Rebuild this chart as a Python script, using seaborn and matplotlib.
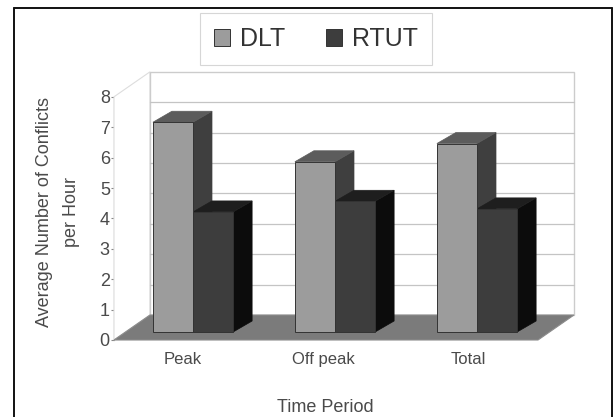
import matplotlib
matplotlib.use("Agg")
import pandas as pd
import seaborn as sns
from matplotlib import pyplot as plt
from matplotlib.lines import Line2D
from matplotlib.patches import Polygon
from matplotlib.transforms import ScaledTranslation

periods = ["Peak", "Off peak", "Total"]
dlt_values = [6.9, 5.6, 6.2]
rtut_values = [3.95, 4.3, 4.05]
y_ticks = [0, 1, 2, 3, 4, 5, 6, 7, 8]

W, H = 614, 417
PX_X = 142.0   # pixels per category
PX_Y = 30.4    # pixels per unit
X0 = 193       # pixel of first category centre
Y0 = 332       # pixel of bar base
AX_BOTTOM = 341

def px(x):
    return (x - X0) / PX_X

def py(y):
    return (Y0 - y) / PX_Y

df = pd.DataFrame({
    "period": periods * 2,
    "conflicts": dlt_values + rtut_values,
    "method": ["DLT"] * 3 + ["RTUT"] * 3,
})

sns.set_theme(style="white")
plt.rcParams["font.family"] = ["Liberation Sans", "DejaVu Sans"]
text_col = "#4a4a4a"

fig = plt.figure(figsize=(W / 100, H / 100), dpi=100, facecolor="white")
ax = fig.add_axes([0, 1 - AX_BOTTOM / H, 1, AX_BOTTOM / H])
ax.patch.set_alpha(0)

sns.barplot(data=df, x="period", y="conflicts", hue="method", order=periods,
            hue_order=["DLT", "RTUT"], palette={"DLT": "#9c9c9c", "RTUT": "#3d3d3d"},
            width=0.565, gap=0, saturation=1, edgecolor="#333333", linewidth=0.7, ax=ax)

ax.set_xlim(px(0), px(W))
ax.set_ylim(py(AX_BOTTOM), py(0))

# walls and floor of the 3d box
lift = py(340)
top = lift + y_ticks[-1]
dx, dy = 36 / PX_X, 25 / PX_Y
xl, xr = px(114), px(538)
wall = "#c4c4c4"
ax.add_patch(Polygon([(xl, lift), (xl, top), (xl + dx, top + dy), (xl + dx, lift + dy)],
                     fc="white", ec="#dddddd", lw=0.8, zorder=0.5))
ax.add_patch(Polygon([(xl + dx, lift + dy), (xl + dx, top + dy), (xr + dx, top + dy), (xr + dx, lift + dy)],
                     fc="white", ec="#cccccc", lw=1.0, zorder=0.5))
for t in y_ticks[1:-1]:
    ax.plot([xl + dx, xr + dx], [lift + dy + t] * 2, color=wall, lw=0.9, zorder=0.6)
ax.add_patch(Polygon([(xl, lift), (xr, lift), (xr + dx, lift + dy), (xl + dx, lift + dy)],
                     fc="#7b7b7b", ec="#8c8c8c", lw=0.8, zorder=0.7))

# bar tops and sides, built from the bars seaborn drew
bx, by = 19 / PX_X, 11 / PX_Y
shades = [("#5c5c5c", "#3f3f3f"), ("#1e1e1e", "#0c0c0c")]
z = 1.0
for cont, (top_col, side_col) in zip(ax.containers, shades):
    for bar in cont:
        x0, w, h = bar.get_x(), bar.get_width(), bar.get_height()
        ax.add_patch(Polygon([(x0 + w, 0), (x0 + w, h), (x0 + w + bx, h + by), (x0 + w + bx, by)],
                             fc=side_col, ec=side_col, lw=0.5, zorder=z))
        ax.add_patch(Polygon([(x0, h), (x0 + w, h), (x0 + w + bx, h + by), (x0 + bx, h + by)],
                             fc=top_col, ec=top_col, lw=0.5, zorder=z))
        bar.set_zorder(5)
    z += 0.1

for s in ax.spines.values():
    s.set_visible(False)
ax.set_yticks([])
ax.tick_params(axis="x", length=0, pad=8, labelsize=12, labelcolor=text_col)
for label, shift in zip(ax.get_xticklabels(), [-10, -12, -9]):
    label.set_transform(label.get_transform() + ScaledTranslation(shift / 100, 0, fig.dpi_scale_trans))

# value axis sits on the front edge of the floor, below the bar bases
sec = ax.secondary_yaxis(114 / W, functions=(lambda v: v - lift, lambda v: v + lift))
sec.set_yticks(y_ticks)
sec.tick_params(length=2, width=0.8, color="#888888", pad=1, labelsize=13, labelcolor=text_col)
sec.spines["left"].set_bounds(0, 8)
sec.spines["left"].set_color("#9a9a9a")
sec.spines["left"].set_linewidth(0.8)

ax.set_ylabel("Average Number of Conflicts\nper Hour", fontsize=13, color=text_col, linespacing=1.75)
ax.yaxis.set_label_coords(80 / W, 1 - 212 / AX_BOTTOM)
ax.set_xlabel("Time Period", fontsize=13, color=text_col)
ax.xaxis.set_label_coords(325 / W, 1 - 399 / AX_BOTTOM)

sns.move_legend(ax, "center", bbox_to_anchor=(316 / W, 1 - 39 / AX_BOTTOM), ncol=2, title=None,
                frameon=True, fancybox=False, edgecolor="#cccccc", fontsize=18,
                labelcolor="#333333", handlelength=0.65, handleheight=0.65, handletextpad=0.4,
                columnspacing=1.6, borderpad=0.55)
leg = ax.get_legend()
leg.get_frame().set_linewidth(0.8)
leg.set_zorder(6)

# picture frame
frame = dict(color="#111111", lw=1.4, transform=fig.transFigure)
fig.add_artist(Line2D([14 / W, 14 / W], [0, 1 - 8 / H], **frame))
fig.add_artist(Line2D([14 / W, 612 / W], [1 - 8 / H, 1 - 8 / H], **frame))
fig.add_artist(Line2D([612 / W, 612 / W], [0, 1 - 8 / H], **frame))

fig.savefig("out.png", dpi=100)
